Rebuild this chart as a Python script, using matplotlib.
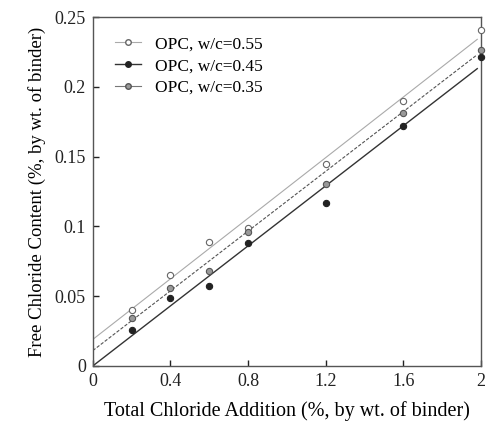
import numpy as np
import matplotlib.pyplot as plt

plt.rcParams['font.family'] = ['Liberation Serif', 'DejaVu Serif']

# total chloride addition (%, by wt. of binder)
x = [0.2, 0.4, 0.6, 0.8, 1.2, 1.6, 2.0]

# free chloride content for each w/c ratio
wc055 = [0.040, 0.065, 0.089, 0.099, 0.145, 0.190, 0.241]
wc045 = [0.026, 0.049, 0.057, 0.088, 0.117, 0.172, 0.221]
wc035 = [0.034, 0.056, 0.068, 0.096, 0.130, 0.181, 0.226]

# fitted lines (start/end values)
fit_x = [0.0, 1.98]
fit055 = [0.019, 0.234]
fit045 = [0.000, 0.213]
fit035 = [0.011, 0.223]

fig = plt.figure(figsize=(4.86, 4.25), dpi=100)
ax = fig.add_axes([0.191, 0.139, 0.799, 0.821])

ax.plot(fit_x, fit055, color='#aaaaaa', lw=0.8, ls='-')
ax.plot(fit_x, fit045, color='#333333', lw=1.0, ls='-')
ax.plot(fit_x, fit035, color='#555555', lw=0.8, ls=(0, (3, 1.5)))

ax.plot(x, wc055, 'o', ms=4.5, mfc='white', mec='#666666', mew=0.8, ls='none', clip_on=False, zorder=3)
ax.plot(x, wc045, 'o', ms=4.5, mfc='#222222', mec='#222222', mew=0.8, ls='none', clip_on=False, zorder=3)
ax.plot(x, wc035, 'o', ms=4.5, mfc='#999999', mec='#555555', mew=0.8, ls='none', clip_on=False, zorder=3)

# legend handles: line + marker
h1, = ax.plot([], [], '-o', color='#aaaaaa', ms=4, mfc='white', mec='#666666', lw=0.8)
h2, = ax.plot([], [], '-o', color='#333333', ms=4, mfc='#222222', mec='#222222', lw=1.0)
h3, = ax.plot([], [], '-o', color='#777777', ms=4, mfc='#999999', mec='#555555', lw=0.8)
ax.legend([h1, h2, h3], ['OPC, w/c=0.55', 'OPC, w/c=0.45', 'OPC, w/c=0.35'],
          loc='upper left', bbox_to_anchor=(0.03, 0.975), frameon=False,
          fontsize=12.5, handlelength=1.5, handletextpad=0.8, labelspacing=0.33,
          borderaxespad=0.2)

ax.set_xlim(0, 2)
ax.set_ylim(0, 0.25)
ax.set_xticks([0, 0.4, 0.8, 1.2, 1.6, 2])
ax.set_xticklabels(['0', '0.4', '0.8', '1.2', '1.6', '2'])
ax.set_yticks([0, 0.05, 0.1, 0.15, 0.2, 0.25])
ax.set_yticklabels(['0', '0.05', '0.1', '0.15', '0.2', '0.25'])
ax.tick_params(direction='in', length=4, width=1, labelsize=13, pad=5, colors='#222222')
for s in ax.spines.values():
    s.set_color('#555555')
    s.set_linewidth(1.0)

ax.set_xlabel('Total Chloride Addition (%, by wt. of binder)', fontsize=14.5, labelpad=8)
ax.set_ylabel('Free Chloride Content (%, by wt. of binder)', fontsize=13.5, labelpad=6)

fig.savefig('out.png', dpi=100)
